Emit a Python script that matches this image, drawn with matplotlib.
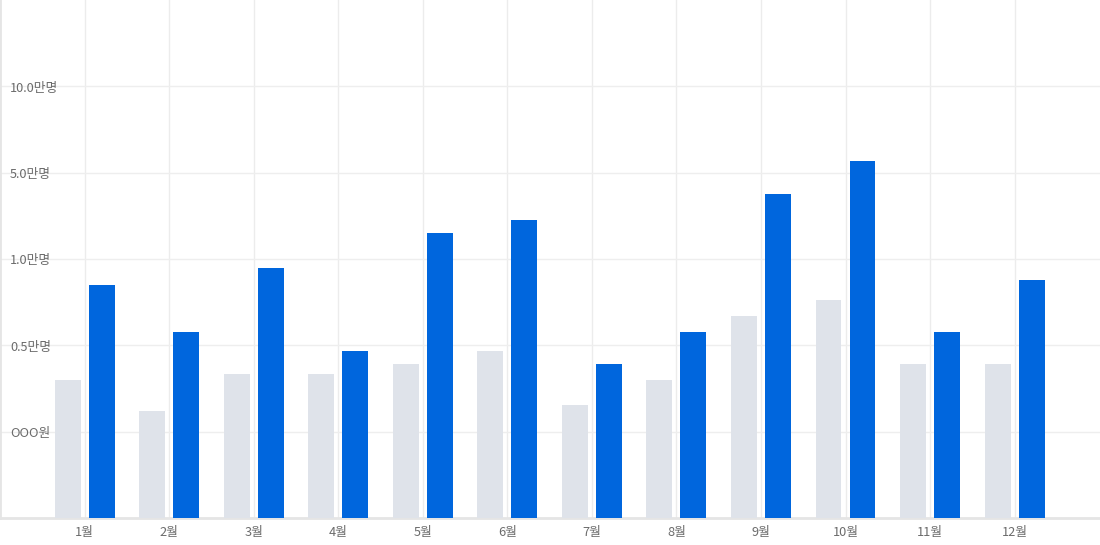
import matplotlib
matplotlib.use("Agg")
import matplotlib.pyplot as plt
import matplotlib.transforms as mtransforms

plt.rcParams['font.family'] = ['Noto Sans CJK KR', 'DejaVu Sans']

months = ['1월', '2월', '3월', '4월', '5월', '6월', '7월', '8월', '9월', '10월', '11월', '12월']
# values in axis-level units (0 = baseline, 1 = OOO원, 2 = 0.5만명, 3 = 1.0만명, 4 = 5.0만명, 5 = 10.0만명)
prev_values = [1.60, 1.24, 1.67, 1.67, 1.78, 1.93, 1.31, 1.60, 2.34, 2.52, 1.78, 1.78]
curr_values = [2.70, 2.15, 2.90, 1.93, 3.30, 3.45, 1.78, 2.15, 3.75, 4.13, 2.15, 2.76]
ytick_labels = ['OOO원', '0.5만명', '1.0만명', '5.0만명', '10.0만명']

fig = plt.figure(figsize=(11, 5.45), dpi=100)
ax = fig.add_axes([0, 27 / 545, 1, 518 / 545])

x = list(range(1, len(months) + 1))
w = 0.307
off = 0.201
ax.bar([i - off for i in x], prev_values, width=w, color='#dfe3ea', zorder=3)
ax.bar([i + off for i in x], curr_values, width=w, color='#0066dd', zorder=3)

ax.set_xlim(0, 13.01)
ax.set_ylim(0, 6)

for i in x:
    ax.axvline(i, color='#ececec', lw=1.0, zorder=1)
for k in range(1, 6):
    ax.axhline(k, color='#eeeeee', lw=1.0, zorder=1)

trans = mtransforms.blended_transform_factory(ax.transAxes, ax.transData)
for k, lab in enumerate(ytick_labels, start=1):
    ax.text(10 / 1100, k - 0.02, lab, transform=trans, ha='left', va='center',
            fontsize=9.2, color='#6b6b6b', zorder=4)

ax.set_xticks(x)
ax.set_xticklabels(months, fontsize=9.2, color='#6b6b6b')
ax.tick_params(axis='x', length=0, pad=6)
ax.set_yticks([])

for s in ['top', 'right']:
    ax.spines[s].set_visible(False)
ax.spines['left'].set_color('#e5e5e5')
ax.spines['left'].set_linewidth(2)
ax.spines['bottom'].set_color('#e5e5e5')
ax.spines['bottom'].set_linewidth(2)

fig.savefig('out.png', dpi=100)
